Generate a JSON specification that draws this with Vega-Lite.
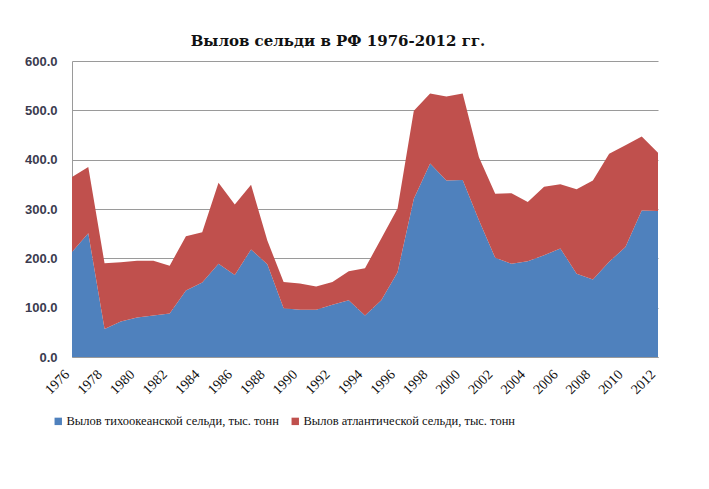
{
  "$schema": "https://vega.github.io/schema/vega-lite/v6.json",
  "width": 586,
  "height": 296,
  "autosize": {"type": "none"},
  "padding": {"left": 72, "top": 61, "right": 51, "bottom": 132},
  "background": "white",
  "title": {
    "text": "Вылов сельди в РФ 1976-2012  гг.",
    "font": "DejaVu Serif",
    "fontSize": 15,
    "fontWeight": "bold",
    "color": "#111111",
    "anchor": "middle",
    "dx": -27,
    "offset": 6
  },
  "data": {
    "values": [
      {"year": 1976, "series": "P", "value": 213}, {"year": 1976, "series": "A", "value": 152},
      {"year": 1977, "series": "P", "value": 251}, {"year": 1977, "series": "A", "value": 134},
      {"year": 1978, "series": "P", "value": 57}, {"year": 1978, "series": "A", "value": 133},
      {"year": 1979, "series": "P", "value": 72}, {"year": 1979, "series": "A", "value": 120},
      {"year": 1980, "series": "P", "value": 80}, {"year": 1980, "series": "A", "value": 115},
      {"year": 1981, "series": "P", "value": 84}, {"year": 1981, "series": "A", "value": 111},
      {"year": 1982, "series": "P", "value": 88}, {"year": 1982, "series": "A", "value": 97},
      {"year": 1983, "series": "P", "value": 135}, {"year": 1983, "series": "A", "value": 110},
      {"year": 1984, "series": "P", "value": 151}, {"year": 1984, "series": "A", "value": 102},
      {"year": 1985, "series": "P", "value": 189}, {"year": 1985, "series": "A", "value": 164},
      {"year": 1986, "series": "P", "value": 166}, {"year": 1986, "series": "A", "value": 143},
      {"year": 1987, "series": "P", "value": 218}, {"year": 1987, "series": "A", "value": 131},
      {"year": 1988, "series": "P", "value": 188}, {"year": 1988, "series": "A", "value": 48},
      {"year": 1989, "series": "P", "value": 99}, {"year": 1989, "series": "A", "value": 53},
      {"year": 1990, "series": "P", "value": 96}, {"year": 1990, "series": "A", "value": 53},
      {"year": 1991, "series": "P", "value": 96}, {"year": 1991, "series": "A", "value": 47},
      {"year": 1992, "series": "P", "value": 106}, {"year": 1992, "series": "A", "value": 46},
      {"year": 1993, "series": "P", "value": 115}, {"year": 1993, "series": "A", "value": 59},
      {"year": 1994, "series": "P", "value": 84}, {"year": 1994, "series": "A", "value": 96},
      {"year": 1995, "series": "P", "value": 115}, {"year": 1995, "series": "A", "value": 125},
      {"year": 1996, "series": "P", "value": 172}, {"year": 1996, "series": "A", "value": 129},
      {"year": 1997, "series": "P", "value": 321}, {"year": 1997, "series": "A", "value": 178},
      {"year": 1998, "series": "P", "value": 392}, {"year": 1998, "series": "A", "value": 142},
      {"year": 1999, "series": "P", "value": 358}, {"year": 1999, "series": "A", "value": 170},
      {"year": 2000, "series": "P", "value": 359}, {"year": 2000, "series": "A", "value": 175},
      {"year": 2001, "series": "P", "value": 277}, {"year": 2001, "series": "A", "value": 128},
      {"year": 2002, "series": "P", "value": 201}, {"year": 2002, "series": "A", "value": 130},
      {"year": 2003, "series": "P", "value": 189}, {"year": 2003, "series": "A", "value": 143},
      {"year": 2004, "series": "P", "value": 194}, {"year": 2004, "series": "A", "value": 120},
      {"year": 2005, "series": "P", "value": 206}, {"year": 2005, "series": "A", "value": 139},
      {"year": 2006, "series": "P", "value": 220}, {"year": 2006, "series": "A", "value": 130},
      {"year": 2007, "series": "P", "value": 169}, {"year": 2007, "series": "A", "value": 171},
      {"year": 2008, "series": "P", "value": 157}, {"year": 2008, "series": "A", "value": 201},
      {"year": 2009, "series": "P", "value": 193}, {"year": 2009, "series": "A", "value": 219},
      {"year": 2010, "series": "P", "value": 223}, {"year": 2010, "series": "A", "value": 206},
      {"year": 2011, "series": "P", "value": 297}, {"year": 2011, "series": "A", "value": 150},
      {"year": 2012, "series": "P", "value": 296}, {"year": 2012, "series": "A", "value": 118}
    ]
  },
  "mark": {"type": "area", "interpolate": "linear"},
  "encoding": {
    "x": {
      "field": "year",
      "type": "quantitative",
      "scale": {"domain": [1976, 2012], "nice": false, "zero": false},
      "axis": {
        "title": null,
        "values": [1976, 1978, 1980, 1982, 1984, 1986, 1988, 1990, 1992, 1994, 1996, 1998, 2000, 2002, 2004, 2006, 2008, 2010, 2012],
        "format": "d",
        "labelAngle": -45,
        "labelFont": "Liberation Serif",
        "labelFontSize": 14,
        "labelColor": "#111111",
        "labelPadding": 10,
        "labelOffset": -10,
        "ticks": false,
        "grid": false,
        "domainColor": "#9a9a9a"
      }
    },
    "y": {
      "field": "value",
      "type": "quantitative",
      "stack": "zero",
      "scale": {"domain": [0, 600], "nice": false},
      "axis": {
        "title": null,
        "values": [0, 100, 200, 300, 400, 500, 600],
        "format": ".1f",
        "labelFont": "Liberation Sans",
        "labelFontSize": 13,
        "labelFontWeight": "bold",
        "labelColor": "#3b3b4f",
        "labelPadding": 15,
        "ticks": false,
        "domainColor": "#9a9a9a",
        "gridColor": "#9a9a9a",
        "gridWidth": 1.2
      }
    },
    "color": {
      "field": "series",
      "type": "nominal",
      "sort": ["P", "A"],
      "scale": {"domain": ["P", "A"], "range": ["#4F81BD", "#C0504D"]},
      "legend": {
        "title": null,
        "orient": "none",
        "direction": "horizontal",
        "legendX": -20,
        "legendY": 354,
        "symbolType": "square",
        "symbolSize": 55,
        "symbolStrokeWidth": 0,
        "labelFont": "Liberation Serif",
        "labelFontSize": 12.5,
        "labelColor": "#111111",
        "labelLimit": 400,
        "labelOffset": 2,
        "columnPadding": 10,
        "labelExpr": "datum.value == 'P' ? 'Вылов тихоокеанской сельди, тыс. тонн' : 'Вылов атлантической сельди, тыс. тонн'"
      }
    },
    "order": {"field": "series", "sort": "descending"}
  },
  "config": {
    "view": {"stroke": null}
  }
}
